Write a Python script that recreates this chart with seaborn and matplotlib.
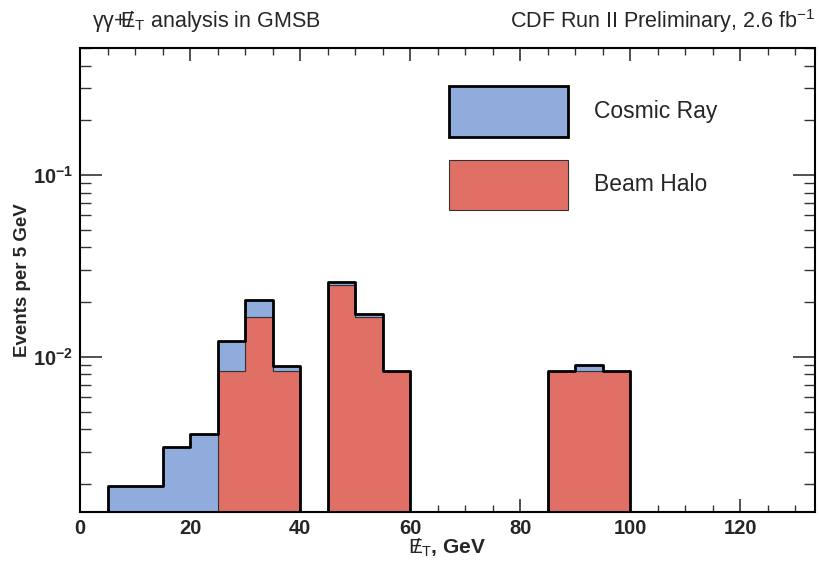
"""
Missing-ET distribution of the non-collision backgrounds (cosmic ray on top of
beam halo), CDF-style stacked histogram on a log scale.
"""
import numpy as np
import pandas as pd
import matplotlib
matplotlib.use("Agg")
import matplotlib.pyplot as plt
import matplotlib.ticker as mticker
from matplotlib.patches import Patch
import seaborn as sns

# ── Data (events per 5 GeV bin) ───────────────────────────────
bin_lo = [5, 10, 15, 20, 25, 30, 35, 45, 50, 55, 85, 90, 95]
beam_halo = [0, 0, 0, 0, 0.0084, 0.0165, 0.0084, 0.0247, 0.0166, 0.0084,
             0.0084, 0.0084, 0.0084]
cosmic_ray = [0.00195, 0.00195, 0.0032, 0.00375, 0.0038, 0.0041, 0.0005,
              0.0011, 0.0007, 0.0, 0.0, 0.0006, 0.0]
edges = list(range(0, 140, 5))
x_ticks = [0, 20, 40, 60, 80, 100, 120]
y_decades = [1e-2, 1e-1]

BLUE = "#8FACDC"
RED = "#E07066"

centres = [b + 2.5 for b in bin_lo]
df = pd.DataFrame({
    "met": centres * 2,
    "w": beam_halo + cosmic_ray,
    "src": ["Beam Halo"] * len(centres) + ["Cosmic Ray"] * len(centres),
})
tot = pd.DataFrame({"met": centres,
                    "w": np.add(beam_halo, cosmic_ray)})

sns.set_style("ticks")
plt.rcParams["font.family"] = ["Liberation Sans", "DejaVu Sans"]
plt.rcParams["mathtext.fontset"] = "custom"
plt.rcParams["mathtext.rm"] = "Liberation Sans"
plt.rcParams["mathtext.it"] = "Liberation Sans"
plt.rcParams["mathtext.bf"] = "Liberation Sans:bold"

fig = plt.figure(figsize=(8.2, 5.64), dpi=100)
ax = fig.add_axes([0.0976, 0.092, 0.896, 0.823])

# stacked layers (first hue level ends up on top)
sns.histplot(data=df, x="met", weights="w", hue="src", bins=edges,
             multiple="stack", element="step",
             hue_order=["Cosmic Ray", "Beam Halo"],
             palette={"Cosmic Ray": BLUE, "Beam Halo": RED},
             alpha=1, edgecolor="#333333", linewidth=0.8,
             legend=False, ax=ax)
# thick outline of the total
sns.histplot(data=tot, x="met", weights="w", bins=edges, element="step",
             fill=False, color="black", linewidth=2.0, ax=ax)

ax.set_yscale("log")
ax.set_xlim(0, 133.5)
ax.set_ylim(0.0014, 0.5)

# ticks on all four sides, pointing in
ax.xaxis.set_major_locator(mticker.FixedLocator(x_ticks))
ax.xaxis.set_minor_locator(mticker.MultipleLocator(5))
ax.yaxis.set_major_locator(mticker.FixedLocator(y_decades))
ax.yaxis.set_major_formatter(mticker.FuncFormatter(
    lambda v, p: r"$\mathbf{10^{%d}}$" % round(np.log10(v))))
ax.yaxis.set_minor_locator(mticker.LogLocator(base=10, subs=np.arange(2, 10)))
ax.yaxis.set_minor_formatter(mticker.NullFormatter())
ax.tick_params(axis="both", which="both", direction="in",
               top=True, right=True, color="#333333")
ax.tick_params(axis="x", which="major", length=9.5, width=1.2)
ax.tick_params(axis="x", which="minor", length=4.7, width=1.0)
ax.tick_params(axis="y", which="major", length=16, width=1.2)
ax.tick_params(axis="y", which="minor", length=8, width=1.0)
ax.tick_params(axis="both", labelsize=14.5, pad=5)
for lab in ax.get_xticklabels():
    lab.set_fontweight("bold")
for s in ax.spines.values():
    s.set_linewidth(1.5)
    s.set_color("black")

ax.set_xlabel(r"$/\!\!\!\!E_{\mathrm{T}}$, GeV", fontsize=15,
              fontweight="bold", labelpad=-1)
ax.set_ylabel("Events per 5 GeV", fontsize=13.5, fontweight="bold",
              labelpad=1)

handles = [Patch(facecolor=BLUE, edgecolor="black", linewidth=2.0,
                 label="Cosmic Ray"),
           Patch(facecolor=RED, edgecolor="#333333", linewidth=0.8,
                 label="Beam Halo")]
ax.legend(handles=handles, loc="upper left", bbox_to_anchor=(0.49, 0.937),
          frameon=False, fontsize=16.5, handlelength=5.2, handleheight=3.0,
          handletextpad=1.1, labelspacing=1.0, borderaxespad=0)

fig.text(0.112, 0.962, r"$\gamma\gamma$+$/\!\!\!\!E_{\mathrm{T}}$ analysis in GMSB",
         fontsize=15.5, ha="left", va="center")
fig.text(0.994, 0.962, r"CDF Run II Preliminary, 2.6 fb$^{-1}$",
         fontsize=15.5, ha="right", va="center")

fig.savefig("out.png", dpi=100)
